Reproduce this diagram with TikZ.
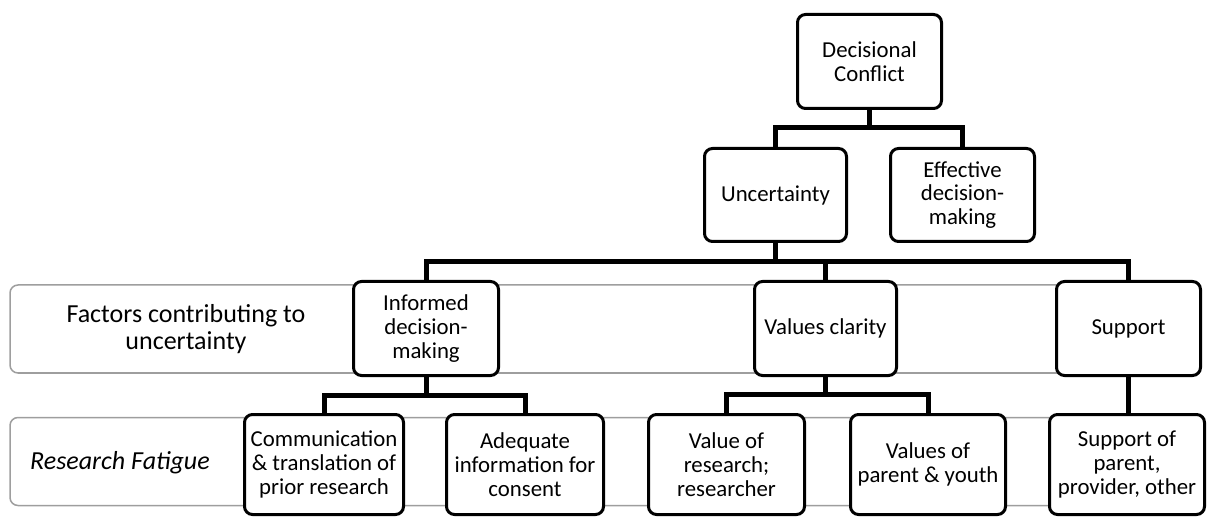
\documentclass[tikz,border=0pt]{standalone}
\usepackage{fontspec}
\setmainfont{Carlito}
\begin{document}
\begin{tikzpicture}[x=1pt,y=-1pt,
  box/.style={draw=black,line width=3pt,fill=white,rounded corners=8pt,
    inner sep=0pt,align=center,font=\fontsize{22.8}{23.8}\selectfont},
  band/.style={draw=black!38,line width=1.5pt,fill=white,rounded corners=8pt,inner sep=0pt},
  conn/.style={draw=black,line width=5pt},
  lbl/.style={font=\fontsize{26}{27}\selectfont,align=center,inner sep=0pt}]
\useasboundingbox (0,0) rectangle (1207,518);
\newcommand\bx[6]{\node[box,minimum width={#4-#2-3},minimum height={#5-#3-3}] (#1) at ({(#2+#4)/2},{(#3+#5)/2}) {#6};}
% bands
\node[band,minimum width=1184,minimum height=88] (band1) at (602,329) {};
\node[band,minimum width=1184,minimum height=88] (band2) at (602,461.5) {};
\node[lbl] (l1) at (186,329) {Factors contributing to\\uncertainty};
\node[lbl,anchor=west,font=\fontsize{26}{27}\selectfont\itshape] (l2) at (30,463) {Research Fatigue};
% boxes
\bx{dc}{796}{13}{943}{110}{Decisional\\Conflict}
\bx{unc}{703}{147}{848}{243}{Uncertainty}
\bx{eff}{889}{147}{1036}{243}{Effective\\decision-\\making}
\bx{inf}{352}{280}{500}{377}{Informed\\decision-\\making}
\bx{val}{753}{280}{898}{377}{Values clarity}
\bx{sup}{1055}{280}{1202}{377}{Support}
\bx{comm}{243}{413}{405}{516}{Communication\\\&~translation of\\prior research}
\bx{adeq}{445}{413}{605}{516}{Adequate\\information for\\consent}
\bx{vor}{647}{413}{806}{516}{Value of\\research;\\researcher}
\bx{vop}{849}{413}{1007}{516}{Values of\\parent \& youth}
\bx{sop}{1048}{413}{1206}{516}{Support of\\parent,\\provider, other}
% connectors
\draw[conn] (dc.south) -- ++(0,18) coordinate (j1);
\draw[conn] (unc.north) |- (j1) -| (eff.north);
\draw[conn] (unc.south) -- ++(0,19) coordinate (j2);
\draw[conn] (inf.north) |- (j2) -| (sup.north);
\draw[conn] (val.north) -- (val.north |- j2);
\draw[conn] (inf.south) -- ++(0,18) coordinate (j3);
\draw[conn] (comm.north) |- (j3) -| (adeq.north);
\draw[conn] (val.south) -- ++(0,17) coordinate (j4);
\draw[conn] (vor.north) |- (j4) -| (vop.north);
\draw[conn] (sup.south) -- (sup.south |- sop.north);
\end{tikzpicture}
\end{document}
